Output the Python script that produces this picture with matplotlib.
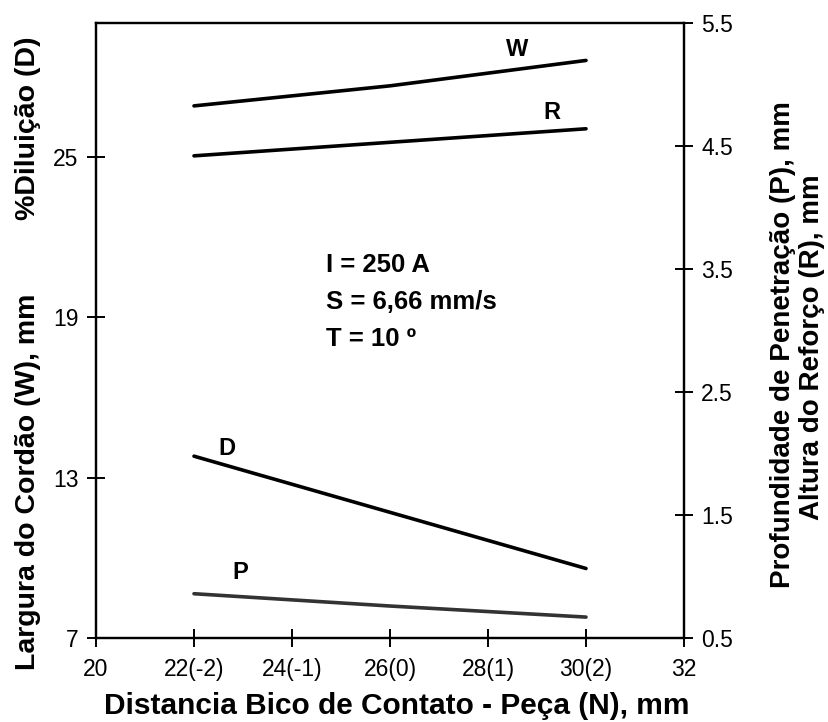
import matplotlib
matplotlib.use("Agg")
import matplotlib.pyplot as plt

# Data
x_pts = [22, 26, 30]
W = [26.9, 27.65, 28.6]     # Largura do Cordão (left axis)
D = [13.8, 11.7, 9.6]       # %Diluição (left axis)
R = [4.42, 4.53, 4.64]      # Altura do Reforço (right axis)
P = [0.86, 0.76, 0.67]      # Profundidade de Penetração (right axis)

xticks = [20, 22, 24, 26, 28, 30, 32]
xticklabels = ["20", "22(-2)", "24(-1)", "26(0)", "28(1)", "30(2)", "32"]
left_ticks = [7, 13, 19, 25]
right_ticks = [0.5, 1.5, 2.5, 3.5, 4.5, 5.5]
right_ticklabels = ["0.5", "1.5", "2.5", "3.5", "4.5", "5.5"]
info_lines = ["I = 250 A", "S = 6,66 mm/s", "T = 10 º"]

plt.rcParams['font.family'] = ['Liberation Sans', 'DejaVu Sans']

fig = plt.figure(figsize=(8.29, 7.22), dpi=100)
ax = fig.add_axes([96/829, 1-638/722, (684-96)/829, (638-23)/722])
ax2 = ax.twinx()

ax.set_xlim(20, 32)
ax.set_ylim(7, 30)
ax2.set_ylim(0.5, 5.5)

lw = 2.6
ax.plot(x_pts, W, color='black', lw=lw, solid_capstyle='round')
ax.plot(x_pts, D, color='black', lw=lw, solid_capstyle='round')
ax2.plot(x_pts, R, color='black', lw=lw, solid_capstyle='round')
ax2.plot(x_pts, P, color='#333333', lw=lw, solid_capstyle='round')

lab = dict(fontsize=17, fontweight='bold', ha='center', va='center')
ax.text(28.6, 29.0, 'W', **lab)
ax2.text(29.3, 4.77, 'R', **lab)
ax.text(22.67, 14.1, 'D', **lab)
ax2.text(22.94, 1.03, 'P', **lab)

info_y = [20.95, 19.55, 18.2]
for s, yv in zip(info_lines, info_y):
    ax.text(24.69, yv, s, fontsize=18.5, fontweight='bold',
            ha='left', va='center')

for a in (ax, ax2):
    for s in a.spines.values():
        s.set_linewidth(1.6)

ax.set_xticks(xticks)
ax.set_xticklabels(xticklabels)
ax.set_yticks(left_ticks)
ax2.set_yticks(right_ticks)
ax2.set_yticklabels(right_ticklabels)
ax.tick_params(axis='x', direction='inout', length=13, width=1.4,
               labelsize=16.5, pad=8)
ax.tick_params(axis='y', direction='inout', length=13, width=1.4,
               labelsize=16.5, pad=6)
ax2.tick_params(axis='y', direction='inout', length=13, width=1.4,
                labelsize=16.5, pad=6)

bold = dict(fontweight='bold', ha='center', va='center')
fig.text(397/829, 1 - 706/722,
         'Distancia Bico de Contato - Peça (N), mm', fontsize=21.5, **bold)
fig.text(28/829, 1 - 482/722, 'Largura do Cordão (W), mm', rotation=90,
         fontsize=20.5, **bold)
fig.text(28/829, 1 - 128/722, '%Diluição (D)', rotation=90,
         fontsize=20.5, **bold)
fig.text(783/829, 1 - 345/722, 'Profundidade de Penetração (P), mm',
         rotation=90, fontsize=20, **bold)
fig.text(812/829, 1 - 347/722, 'Altura do Reforço (R), mm',
         rotation=90, fontsize=20, **bold)

fig.savefig('out.png', dpi=100)
